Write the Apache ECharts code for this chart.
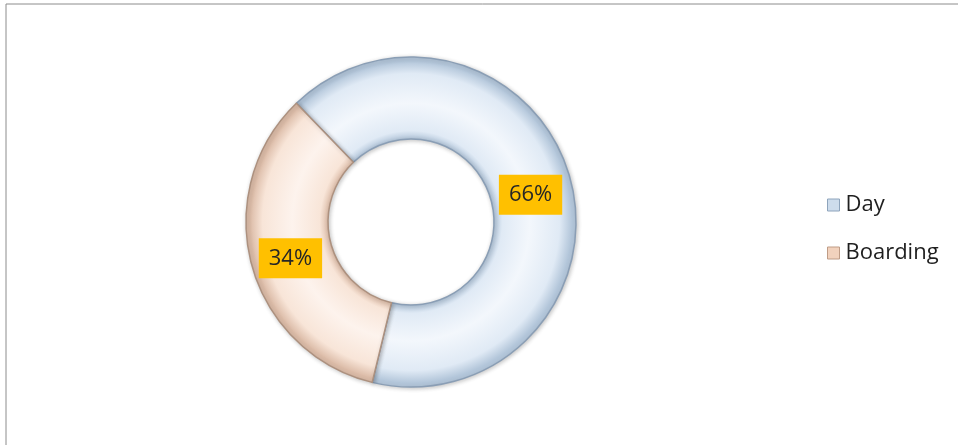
<!DOCTYPE html>
<html>
<head>
<meta charset="utf-8">
<script src="https://cdn.jsdelivr.net/npm/echarts@6/dist/echarts.min.js"></script>
<style>
  html, body { margin: 0; padding: 0; background: #fff; }
  #chart { width: 958px; height: 445px; }
</style>
</head>
<body>
<div id="chart"></div>
<script>
// Share of pupils by attendance type
const categories = ['Day', 'Boarding'];
const shares = [66, 34];

const cx = 411, cy = 222, rOuter = 165, rInner = 83;

// Bevelled ring look: darker at both edges, pale in the middle of the band
function ringFill(edge, mid, light) {
  return {
    type: 'radial', x: cx, y: cy, r: rOuter, global: true,
    colorStops: [
      { offset: 0.0, color: light },
      { offset: rInner / rOuter, color: edge },
      { offset: rInner / rOuter + 0.05, color: mid },
      { offset: 0.72, color: light },
      { offset: 0.90, color: mid },
      { offset: 0.975, color: edge },
      { offset: 1.0, color: edge }
    ]
  };
}
const fills = [
  ringFill('#b3c6da', '#e0eaf5', '#f3f7fc'),
  ringFill('#dcbca8', '#f8e5d8', '#fdf3ed')
];
const borders = ['#8a9eb5', '#ad917f'];
// small nudges of the value boxes inside the ring
const labelNudge = [[-3, 6], [2, 3]];

const fontFamily = '"Open Sans", sans-serif';

const chart = echarts.init(document.getElementById('chart'), null, { renderer: 'canvas' });
chart.setOption({
  backgroundColor: '#ffffff',
  animation: false,
  graphic: [{
    type: 'rect',
    shape: { x: 6, y: 4, width: 1000, height: 500 },
    style: { fill: 'none', stroke: '#8c8c8c', lineWidth: 1 }
  }],
  legend: {
    orient: 'vertical',
    left: 822,
    top: 189,
    itemWidth: 12,
    itemHeight: 12,
    itemGap: 26,
    icon: 'rect',
    textStyle: { fontFamily: fontFamily, fontSize: 22, color: '#1f1f1f', padding: [0, 0, 0, 1] },
    data: categories.map((c, i) => ({
      name: c,
      itemStyle: {
        color: i === 0 ? '#cddcec' : '#f2d2bd',
        borderColor: i === 0 ? '#8ea4bc' : '#bf9c86',
        borderWidth: 1
      }
    }))
  },
  series: [{
    type: 'pie',
    center: [cx, cy],
    radius: [rInner, rOuter],
    startAngle: 134,
    clockwise: true,
    avoidLabelOverlap: false,
    label: {
      show: true,
      position: 'inside',
      formatter: '{d}%',
      fontFamily: fontFamily,
      fontSize: 22,
      lineHeight: 22,
      color: '#262626',
      backgroundColor: '#ffc000',
      padding: [9, 10, 9, 10]
    },
    labelLine: { show: false },
    emphasis: { disabled: true },
    data: categories.map((c, i) => ({
      name: c,
      value: shares[i],
      label: { offset: labelNudge[i] },
      itemStyle: {
        color: fills[i],
        borderColor: borders[i],
        borderWidth: 1.5,
        shadowColor: 'rgba(0,0,0,0.22)',
        shadowBlur: 4,
        shadowOffsetX: 1,
        shadowOffsetY: 1
      }
    }))
  }]
});
</script>
</body>
</html>
